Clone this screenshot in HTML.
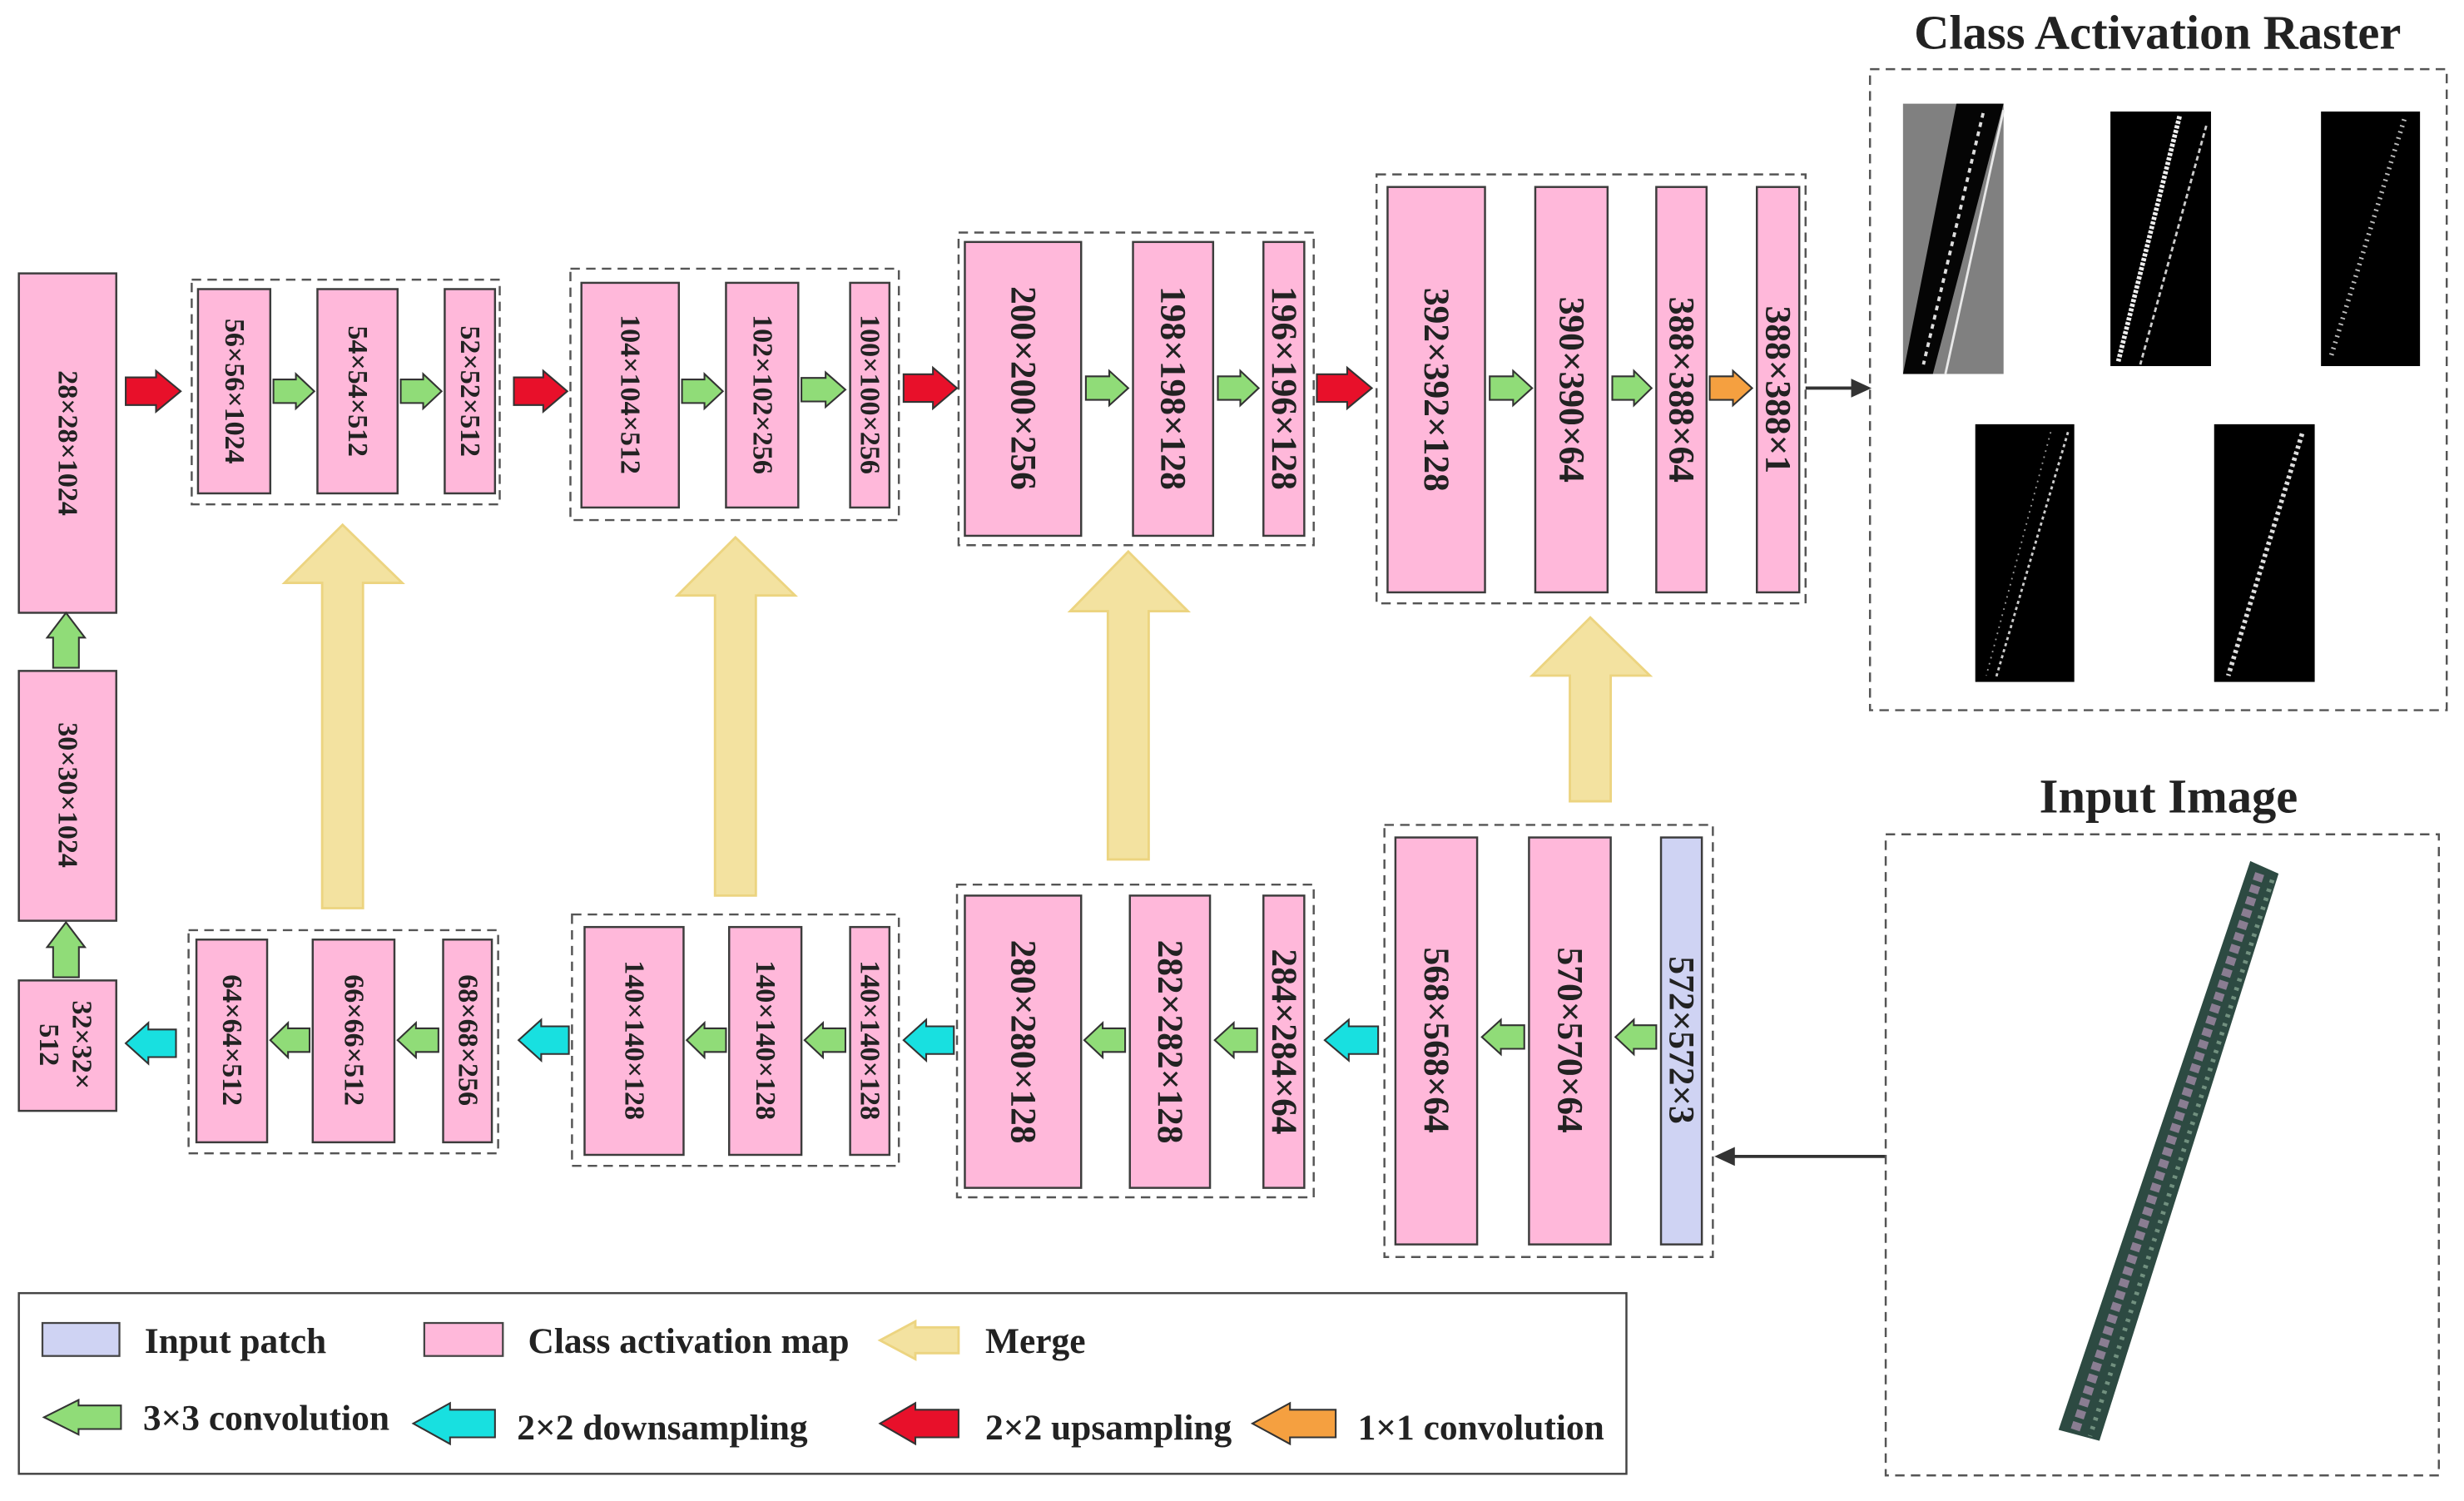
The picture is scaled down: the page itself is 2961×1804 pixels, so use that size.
<!DOCTYPE html>
<html><head><meta charset="utf-8"><style>
html,body{margin:0;padding:0;background:#fff;}
svg{display:block;}
.b{fill:#ffb8da;stroke:#3c3c3c;stroke-width:1.3;}
.t{font-family:"Liberation Serif",serif;font-weight:bold;font-size:18px;fill:#222;text-anchor:middle;dominant-baseline:central;}
.L{font-size:23px;}
.d{fill:none;stroke:#555;stroke-width:1.3;stroke-dasharray:6,4;}
.a{stroke:#333;stroke-width:1.1;}
.g{fill:#90dc78;} .r{fill:#e8102a;} .c{fill:#18e0e0;} .o{fill:#f5a040;}
.m{fill:#f3e2a0;stroke:#ecd480;stroke-width:1.5;}
.lt{font-family:"Liberation Serif",serif;font-weight:bold;font-size:23px;fill:#222;}
</style></head><body>
<svg id="s" width="2961" height="1804" viewBox="0 0 1568 955.3" preserveAspectRatio="none" xmlns="http://www.w3.org/2000/svg">

<rect class="b" x="12" y="174" width="62" height="216"/><text class="t" transform="translate(43,282) rotate(90)">28×28×1024</text>
<rect class="b" x="12" y="427" width="62" height="159"/><text class="t" transform="translate(43,506) rotate(90)">30×30×1024</text>
<rect class="b" x="12" y="624" width="62" height="83"/>
<text class="t" transform="translate(52,665) rotate(90)">32×32×</text>
<text class="t" transform="translate(31,665) rotate(90)">512</text>

<rect class="d" x="122" y="178" width="196" height="143"/>
<rect class="b" x="126" y="184" width="46" height="130"/><text class="t" transform="translate(149,249) rotate(90)">56×56×1024</text>
<rect class="b" x="202" y="184" width="51" height="130"/><text class="t" transform="translate(227.5,249) rotate(90)">54×54×512</text>
<rect class="b" x="283" y="184" width="32" height="130"/><text class="t" transform="translate(299,249) rotate(90)">52×52×512</text>

<rect class="d" x="363" y="171" width="209" height="160"/>
<rect class="b" x="370" y="180" width="62" height="143"/><text class="t" transform="translate(401,251) rotate(90)">104×104×512</text>
<rect class="b" x="462" y="180" width="46" height="143"/><text class="t" transform="translate(485,251) rotate(90)">102×102×256</text>
<rect class="b" x="541" y="180" width="25" height="143"/><text class="t" transform="translate(553.5,251) rotate(90)">100×100×256</text>

<rect class="d" x="610" y="148" width="226" height="199"/>
<rect class="b" x="614" y="154" width="74" height="187"/><text class="t L" transform="translate(651,247) rotate(90)">200×200×256</text>
<rect class="b" x="721" y="154" width="51" height="187"/><text class="t L" transform="translate(746.5,247) rotate(90)">198×198×128</text>
<rect class="b" x="804" y="154" width="26" height="187"/><text class="t L" transform="translate(817,247) rotate(90)">196×196×128</text>

<rect class="d" x="876" y="111" width="273" height="273"/>
<rect class="b" x="883" y="119" width="62" height="258"/><text class="t L" transform="translate(914,248) rotate(90)">392×392×128</text>
<rect class="b" x="977" y="119" width="46" height="258"/><text class="t L" transform="translate(1000,248) rotate(90)">390×390×64</text>
<rect class="b" x="1054" y="119" width="32" height="258"/><text class="t L" transform="translate(1070,248) rotate(90)">388×388×64</text>
<rect class="b" x="1118" y="119" width="27" height="258"/><text class="t L" transform="translate(1131.5,248) rotate(90)">388×388×1</text>

<line x1="1149" y1="247" x2="1180" y2="247" stroke="#333" stroke-width="2"/>
<polygon points="1178,241 1191,247 1178,253" fill="#333"/>

<rect class="d" x="120" y="592" width="197" height="142"/>
<rect class="b" x="125" y="598" width="45" height="129"/><text class="t" transform="translate(147.5,662) rotate(90)">64×64×512</text>
<rect class="b" x="199" y="598" width="52" height="129"/><text class="t" transform="translate(225,662) rotate(90)">66×66×512</text>
<rect class="b" x="282" y="598" width="31" height="129"/><text class="t" transform="translate(297.5,662) rotate(90)">68×68×256</text>

<rect class="d" x="364" y="582" width="208" height="160"/>
<rect class="b" x="372" y="590" width="63" height="145"/><text class="t" transform="translate(403.5,662) rotate(90)">140×140×128</text>
<rect class="b" x="464" y="590" width="46" height="145"/><text class="t" transform="translate(487,662) rotate(90)">140×140×128</text>
<rect class="b" x="541" y="590" width="25" height="145"/><text class="t" transform="translate(553.5,662) rotate(90)">140×140×128</text>

<rect class="d" x="609" y="563" width="227" height="199"/>
<rect class="b" x="614" y="570" width="74" height="186"/><text class="t L" transform="translate(651,663) rotate(90)">280×280×128</text>
<rect class="b" x="719" y="570" width="51" height="186"/><text class="t L" transform="translate(744.5,663) rotate(90)">282×282×128</text>
<rect class="b" x="804" y="570" width="26" height="186"/><text class="t L" transform="translate(817,663) rotate(90)">284×284×64</text>

<rect class="d" x="881" y="525" width="209" height="275"/>
<rect class="b" x="888" y="533" width="52" height="259"/><text class="t L" transform="translate(914,662) rotate(90)">568×568×64</text>
<rect class="b" x="973" y="533" width="52" height="259"/><text class="t L" transform="translate(999,662) rotate(90)">570×570×64</text>
<rect class="b" x="1057" y="533" width="26" height="259" style="fill:#cfd3f3"/><text class="t L" transform="translate(1070,662) rotate(90)">572×572×3</text>

<line x1="1200" y1="736" x2="1102" y2="736" stroke="#333" stroke-width="2"/>
<polygon points="1104,730 1091,736 1104,742" fill="#333"/>

<polygon class="m" points="205,578 205,371 181,371 218,334 256,371 231,371 231,578"/>
<polygon class="m" points="455,570 455,379 431,379 468,342 506,379 481,379 481,570"/>
<polygon class="m" points="705,547 705,389 681,389 718,351 756,389 731,389 731,547"/>
<polygon class="m" points="999,510 999,430 975,430 1012,393 1050,430 1025,430 1025,510"/>

<text x="1373" y="31" text-anchor="middle" style="font-family:'Liberation Serif',serif;font-weight:bold;font-size:31px;fill:#222">Class Activation Raster</text>
<rect class="d" x="1190" y="44" width="367" height="408"/>
<rect x="1211" y="66" width="64" height="172" fill="#808080"/>
<polygon points="1245,66 1275,66 1230,238 1211,238" fill="#050505"/>
<line x1="1262" y1="72" x2="1224" y2="232" stroke="#ddd" stroke-width="2" stroke-dasharray="3,3"/>
<line x1="1275" y1="70" x2="1238" y2="238" stroke="#e8e8e8" stroke-width="1.5"/>
<rect x="1343" y="71" width="64" height="162" fill="#000"/>
<line x1="1387" y1="74" x2="1348" y2="230" stroke="#eee" stroke-width="3" stroke-dasharray="2,1"/>
<line x1="1404" y1="80" x2="1362" y2="232" stroke="#ccc" stroke-width="1.5" stroke-dasharray="3,2"/>
<rect x="1477" y="71" width="63" height="162" fill="#000"/>
<line x1="1530" y1="76" x2="1483" y2="228" stroke="#bbb" stroke-width="3" stroke-dasharray="1,3"/>
<rect x="1257" y="270" width="63" height="164" fill="#000"/>
<line x1="1305" y1="275" x2="1264" y2="430" stroke="#999" stroke-width="1" stroke-dasharray="1,3"/>
<line x1="1316" y1="275" x2="1270" y2="432" stroke="#ccc" stroke-width="1.5" stroke-dasharray="2,2"/>
<rect x="1409" y="270" width="64" height="164" fill="#000"/>
<line x1="1465" y1="276" x2="1418" y2="430" stroke="#ddd" stroke-width="3" stroke-dasharray="2,2"/>

<text x="1380" y="517" text-anchor="middle" style="font-family:'Liberation Serif',serif;font-weight:bold;font-size:31px;fill:#222">Input Image</text>
<rect class="d" x="1200" y="531" width="352" height="408"/>
<polygon points="1432,548 1450,556 1336,917 1310,910" fill="#2d4a42"/>
<line x1="1438" y1="556" x2="1320" y2="912" stroke="#c9a0c8" stroke-width="6" stroke-dasharray="5,3" opacity="0.6"/>
<line x1="1446" y1="560" x2="1330" y2="914" stroke="#9fbfa8" stroke-width="3" stroke-dasharray="2,4" opacity="0.6"/>

<rect x="12" y="823" width="1023" height="115" fill="none" stroke="#444" stroke-width="1.3"/>
<rect x="27" y="842" width="49" height="21" fill="#cfd3f3" stroke="#444" stroke-width="1.2"/>
<text class="lt" x="92" y="861">Input patch</text>
<rect x="270" y="842" width="50" height="21" fill="#ffb8da" stroke="#444" stroke-width="1.2"/>
<text class="lt" x="336" y="861">Class activation map</text>
<text class="lt" x="627" y="861">Merge</text>
<text class="lt" x="91" y="910">3×3 convolution</text>
<text class="lt" x="329" y="916">2×2 downsampling</text>
<text class="lt" x="627" y="916">2×2 upsampling</text>
<text class="lt" x="864" y="916">1×1 convolution</text>
</svg>
<script>
(function(){
var s=document.getElementById('s'),NS='http://www.w3.org/2000/svg';
function A(x,y,len,h,dir,cls){
 var sh=h*0.34, hw=h*0.5, hl=len*0.45;
 var loc=[[0,-sh],[len-hl,-sh],[len-hl,-hw],[len,0],[len-hl,hw],[len-hl,sh],[0,sh]];
 var pts=loc.map(function(p){
  if(dir=='r')return [x+p[0],y+p[1]];
  if(dir=='l')return [x-p[0],y+p[1]];
  return [x+p[1],y-p[0]];
 }).map(function(p){return p[0].toFixed(1)+','+p[1].toFixed(1)}).join(' ');
 var e=document.createElementNS(NS,'polygon');e.setAttribute('points',pts);e.setAttribute('class',cls);s.appendChild(e);
}
A(42,425,35,24,'u','a g');A(42,622,35,24,'u','a g');
A(80,249,35,26,'r','a r');A(327,249,34,26,'r','a r');A(575,247,34,26,'r','a r');A(838,247,35,26,'r','a r');
A(174,249,26,22,'r','a g');A(255,249,26,22,'r','a g');A(434,249,26,22,'r','a g');A(510,248,28,22,'r','a g');
A(691,247,27,22,'r','a g');A(775,247,26,22,'r','a g');A(948,247,27,22,'r','a g');A(1026,247,25,22,'r','a g');
A(1088,247,27,22,'r','a o');
A(112,664,32,26,'l','a c');A(362,662,32,26,'l','a c');A(607,662,32,26,'l','a c');A(877,662,34,26,'l','a c');
A(197,662,25,22,'l','a g');A(279,662,26,22,'l','a g');A(462,662,25,22,'l','a g');A(538,662,26,22,'l','a g');
A(716,662,26,22,'l','a g');A(800,662,27,22,'l','a g');A(970,660,27,22,'l','a g');A(1054,660,26,22,'l','a g');
A(610,853,50,24,'l','m');
A(77,902,49,22,'l','a g');A(315,906,52,26,'l','a c');A(610,906,50,26,'l','a r');A(850,906,53,26,'l','a o');
})();
</script>
</body></html>
